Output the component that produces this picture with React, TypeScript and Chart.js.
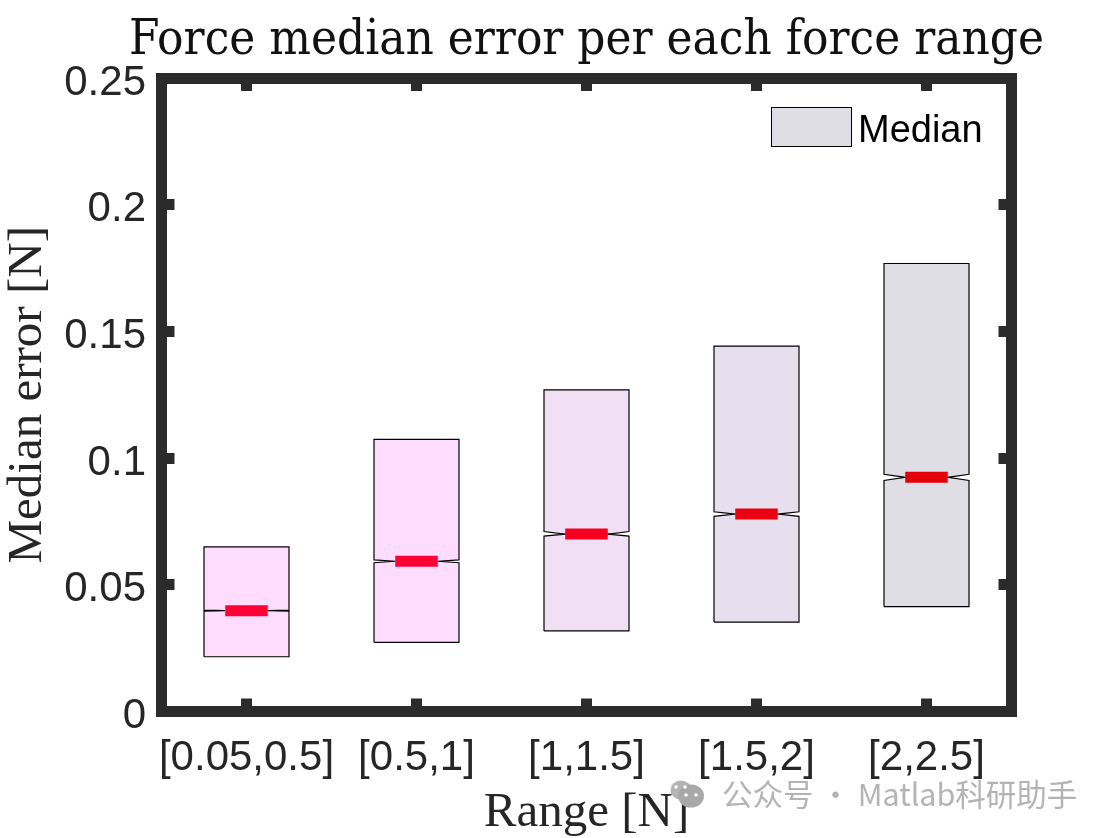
import React, { useEffect, useRef } from "react";
import { Chart, registerables } from "chart.js";

Chart.register(...registerables);

const categories = ["[0.05,0.5]", "[0.5,1]", "[1,1.5]", "[1.5,2]", "[2,2.5]"];
const q1 = [0.0216, 0.0273, 0.0318, 0.0353, 0.0414];
const q3 = [0.065, 0.1074, 0.1269, 0.1442, 0.1768];
const medians = [0.0398, 0.0593, 0.07, 0.0779, 0.0924];
const notchLow = [0.0396, 0.0587, 0.0692, 0.077, 0.0912];
const notchHigh = [0.04, 0.0598, 0.071, 0.0788, 0.0936];
const yTicks = [0, 0.05, 0.1, 0.15, 0.2, 0.25];
const boxColors = ["#FDDCFD", "#FDDCFD", "#F0DFF5", "#E7DFEE", "#DFDEE4"];
const medianColors = ["#FF0035", "#FF0035", "#F5001F", "#EA0012", "#E4000A"];

const titleText = "Force median error per each force range";
const xTitle = "Range [N]";
const yTitle = "Median error [N]";
const legendLabel = "Median";
const watermark = "公众号 · Matlab科研助手";

const INK = "#2B2B2B";
const TEXT = "#262626";
const SANS = "'Liberation Sans', Arial, sans-serif";
const TITLE_SERIF = "'DejaVu Serif', serif";
const AXIS_SERIF = "'Liberation Serif', serif";
const BOX_HALF = 0.25;
const MED_HALF = 0.125;

const boxDatasets = categories.map((_, i) => {
  const c = i + 1;
  const l = c - BOX_HALF;
  const r = c + BOX_HALF;
  const il = c - MED_HALF;
  const ir = c + MED_HALF;
  return {
    label: "Box " + categories[i],
    data: [
      { x: l, y: q1[i] },
      { x: l, y: notchLow[i] },
      { x: il, y: medians[i] },
      { x: l, y: notchHigh[i] },
      { x: l, y: q3[i] },
      { x: r, y: q3[i] },
      { x: r, y: notchHigh[i] },
      { x: ir, y: medians[i] },
      { x: r, y: notchLow[i] },
      { x: r, y: q1[i] },
      { x: l, y: q1[i] },
    ],
    showLine: true,
    fill: "shape",
    backgroundColor: boxColors[i],
    borderColor: "#000000",
    borderWidth: 1.2,
    pointRadius: 0,
    tension: 0,
    order: 2,
  };
});

const medianDatasets = categories.map((_, i) => ({
  label: "Median " + categories[i],
  data: [
    { x: i + 1 - MED_HALF, y: medians[i] },
    { x: i + 1 + MED_HALF, y: medians[i] },
  ],
  showLine: true,
  fill: false,
  borderColor: medianColors[i],
  backgroundColor: medianColors[i],
  borderWidth: 11,
  borderCapStyle: "butt",
  pointRadius: 0,
  order: 1,
}));

const overlay = {
  id: "overlay",
  beforeDraw(chart: any) {
    // MATLAB sets its tick numerals slightly below the tick centre.
    chart.scales.y.getLabelItems().forEach((item: any) => {
      if (!item.__shifted) {
        item.options.translation[1] += 5;
        item.__shifted = true;
      }
    });
    // The title is wider than the axes: widen its box around the same centre.
    const centre = (chart.chartArea.left + chart.chartArea.right) / 2;
    chart.titleBlock.left = centre - 457.5;
    chart.titleBlock.right = centre + 457.5;
  },
  afterDraw(chart: any) {
    const ctx = chart.ctx;
    ctx.save();
    // legend
    ctx.fillStyle = boxColors[4];
    ctx.strokeStyle = "#000";
    ctx.lineWidth = 1;
    ctx.fillRect(771.5, 107.5, 80, 39);
    ctx.strokeRect(771.5, 107.5, 80, 39);
    ctx.fillStyle = "#000";
    ctx.font = `38px ${SANS}`;
    ctx.textAlign = "left";
    ctx.textBaseline = "middle";
    ctx.fillText(legendLabel, 858, 132);
    // watermark
    ctx.fillStyle = "#B4B4B4";
    ctx.beginPath();
    ctx.ellipse(681, 790, 10.5, 9.5, 0, 0, Math.PI * 2);
    ctx.fill();
    ctx.fillStyle = "#A8A8A8";
    ctx.beginPath();
    ctx.ellipse(691, 796, 13, 11.5, 0, 0, Math.PI * 2);
    ctx.fill();
    ctx.fillStyle = "#FFFFFF";
    [[676, 787], [685, 787], [686, 795], [696, 795]].forEach(([x, y]) => {
      ctx.beginPath();
      ctx.arc(x, y, 1.8, 0, Math.PI * 2);
      ctx.fill();
    });
    ctx.fillStyle = "#B4B4B4";
    ctx.font = "30.5px 'Noto Sans CJK SC', sans-serif";
    ctx.fillText(watermark, 722, 794);
    ctx.restore();
  },
};

const sideGrid = {
  drawOnChartArea: false,
  drawTicks: true,
  tickLength: -13,
  tickWidth: 11,
  tickColor: INK,
};
const border = { display: true, color: INK, width: 11 };
const categoryTicks = (axis: any) => {
  axis.ticks = categories.map((_, i) => ({ value: i + 1 }));
};
const valueTicks = (axis: any) => {
  axis.ticks = yTicks.map((v) => ({ value: v }));
};

export default function App() {
  const ref = useRef<HTMLCanvasElement>(null);
  useEffect(() => {
    const chart = new Chart(ref.current as HTMLCanvasElement, {
      type: "scatter",
      data: { datasets: [...medianDatasets, ...boxDatasets] as any },
      plugins: [overlay],
      options: {
        animation: false,
        responsive: false,
        devicePixelRatio: 1,
        layout: { padding: 0 },
        plugins: {
          legend: { display: false },
          tooltip: { enabled: false },
          title: {
            display: true,
            text: titleText,
            fullSize: false,
            color: "#111111",
            font: { family: TITLE_SERIF, size: 48.5, weight: "normal", lineHeight: 1 },
            padding: { top: 17, bottom: 0 },
          },
        },
        scales: {
          x: {
            type: "linear",
            position: "bottom",
            min: 0.5,
            max: 5.5,
            afterBuildTicks: categoryTicks,
            afterFit: (s: any) => { s.height = 838 - 711.5; },
            grid: sideGrid,
            border,
            ticks: {
              color: TEXT,
              font: { family: SANS, size: 42 },
              padding: 35,
              maxRotation: 0,
              autoSkip: false,
              callback: (v: any) => categories[Number(v) - 1],
            },
            title: {
              display: true,
              text: xTitle,
              color: TEXT,
              font: { family: AXIS_SERIF, size: 49, lineHeight: 1 },
              padding: { top: 4, bottom: 0 },
            },
          },
          x2: {
            type: "linear",
            position: "top",
            min: 0.5,
            max: 5.5,
            afterBuildTicks: categoryTicks,
            afterFit: (s: any) => { s.height = 78 - 65.5; },
            grid: sideGrid,
            border,
            ticks: { display: false },
          },
          y: {
            type: "linear",
            position: "left",
            min: 0,
            max: 0.25,
            afterBuildTicks: valueTicks,
            afterFit: (s: any) => { s.width = 161.5; },
            grid: sideGrid,
            border,
            ticks: {
              color: TEXT,
              font: { family: SANS, size: 42 },
              padding: 28.5,
              autoSkip: false,
              callback: (v: any) => String(Number(Number(v).toFixed(2))),
            },
            title: {
              display: true,
              text: yTitle,
              color: TEXT,
              font: { family: AXIS_SERIF, size: 49, lineHeight: 1 },
              padding: { top: 4, bottom: 0 },
            },
          },
          y2: {
            type: "linear",
            position: "right",
            min: 0,
            max: 0.25,
            afterBuildTicks: valueTicks,
            afterFit: (s: any) => { s.width = 1113 - 1011.5; },
            grid: sideGrid,
            border,
            ticks: { display: false },
          },
        },
      } as any,
    });
    return () => chart.destroy();
  }, []);
  return (
    <canvas
      ref={ref}
      width={1113}
      height={838}
      style={{ position: "absolute", left: 0, top: 0, display: "block" }}
    />
  );
}
